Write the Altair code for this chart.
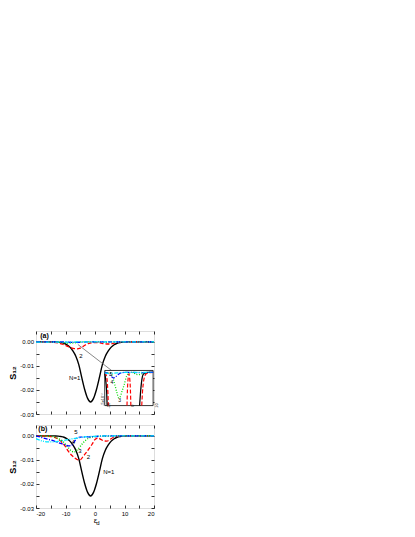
import altair as alt
import pandas as pd

# ---------------- data ----------------
# N=1 curve (identical in both panels)
black_x = [-20, -14.5, -13.5, -12.5, -11.5, -10.5, -9.5, -8.5, -7.5, -6.5, -5.5, -4.5, -3.5, -2.5,
           -1.5, -0.5, 0.5, 1.5, 2.5, 3.5, 4.5, 5.5, 6.5, 7.5, 8.5, 9.5, 10.5, 11.5, 20]
black_y = [0, 0, -0.00005, -0.00013, -0.0003, -0.0006, -0.0012, -0.0022, -0.0038, -0.0060, -0.0095,
           -0.0148, -0.0198, -0.0235, -0.0250, -0.0235, -0.0198, -0.0148, -0.0095, -0.0060, -0.0038,
           -0.0022, -0.0012, -0.0006, -0.0003, -0.00013, -0.00005, 0, 0]

# panel (a)
red_a_x = [-20, -14, -12, -11, -10, -9, -8, -7, -6, -5, -4, -3, -2, -1, 0, 1, 2, 3, 4, 5, 6, 7, 8, 9, 20]
red_a_y = [0, -0.0002, -0.0006, -0.0010, -0.0015, -0.0020, -0.0025, -0.0028, -0.0029, -0.0026, -0.0019,
           -0.0011, -0.0006, -0.0004, -0.0003, -0.0003, -0.0005, -0.0008, -0.0009, -0.0009, -0.0007,
           -0.0004, -0.0002, 0, 0]
green_a_x = [-20, -13, -12, -11, -10, -9, -8, -7, -6, -5, -4, 1, 2, 3, 4, 5, 6, 20]
green_a_y = [0, 0, -0.0002, -0.0003, -0.0004, -0.0005, -0.0005, -0.0004, -0.0003, -0.0001, 0, 0,
             -0.0001, -0.0002, -0.0002, -0.0001, 0, 0]
blue_a_x = [-20, -12, -10, -8, -6, -4, -2, 20]
blue_a_y = [0, 0, -0.0001, -0.0002, -0.0002, -0.0001, 0, 0]
cyan_a_x = [-20, -15, -10, -5, 0, 20]
cyan_a_y = [-0.0001, -0.0001, -0.0001, 0, 0, 0]

# panel (b)
red_b_x = [-20, -16, -14, -13, -12, -11, -10, -9, -8, -7, -6, -5, -4, -3, -2, -1, 0, 1, 2, 3, 4, 5, 6, 7, 8, 20]
red_b_y = [0, -0.0002, -0.0005, -0.0010, -0.0018, -0.0030, -0.0045, -0.0065, -0.0080, -0.0090, -0.0099,
           -0.0100, -0.0085, -0.0070, -0.0053, -0.0035, -0.0015, -0.0009, -0.0015, -0.0021, -0.0022,
           -0.0016, -0.0008, -0.0003, -0.0001, 0]
green_b_x = [-20, -15, -14, -13, -12, -11, -10, -9, -8, -7, -6, -5, -4, -3, -2, -1, 0, 2, 4, 6, 7, 20]
green_b_y = [0, -0.0002, -0.0004, -0.0008, -0.0014, -0.0022, -0.0035, -0.0050, -0.0063, -0.0067, -0.0058,
             -0.0044, -0.0029, -0.0017, -0.0009, -0.0005, -0.0003, -0.0002, -0.0002, -0.0001, 0, 0]
blue_b_x = [-20, -19, -18, -16, -14, -12, -11, -10, -9, -8, -7, -6, -5, -4, -2, 0, 2, 3, 20]
blue_b_y = [0, -0.0003, -0.0007, -0.0014, -0.0021, -0.0030, -0.0034, -0.0038, -0.0042, -0.0040, -0.0024,
            -0.0009, -0.0005, -0.0005, -0.0004, -0.0003, -0.0001, 0, 0]
cyan_b_x = [-20, -18, -16, -14, -12, -10, -8, -6, -4, -2, 0, 2, 4, 20]
cyan_b_y = [-0.0012, -0.0021, -0.0025, -0.0025, -0.0022, -0.0018, -0.0013, -0.0009, -0.0005, -0.0003,
            -0.0002, -0.0001, 0, 0]

# inset of panel (a): x in its own units, y in units of 1e-7
in_black_x = [[-10, -9.8, -9.5, -9.2, -9.0], [4.4, 4.8, 5.2, 5.6, 6.0, 7.0, 8.0, 10.0]]
in_black_y = [[-0.1, -0.5, -1.5, -3.0, -5.0], [-5.0, -3.0, -1.5, -0.6, -0.25, -0.05, 0, 0]]
in_red_x = [[-10, -9.5, -9.0, -8.7, -8.5], [-0.8, -0.6, -0.3, 0, 0.3, 0.6, 0.8],
            [5.3, 5.6, 6.0, 6.5, 7.0, 8.0, 10.0]]
in_red_y = [[-0.05, -0.3, -1.2, -3.0, -5.0], [-5.0, -2.5, -0.8, -0.2, -0.8, -2.5, -5.0],
            [-5.0, -3.0, -1.5, -0.6, -0.25, -0.05, 0]]
in_green_x = [[-10, -8, -7, -6, -5, -4.2, -3.5, -3, -2, -1, 0, 1, 2, 3, 4, 5, 6, 7, 10]]
in_green_y = [[0, -0.05, -0.4, -1.6, -3.0, -3.85, -3.6, -3.0, -1.9, -0.6, -0.1, 0, -0.1, -0.3, -0.35,
               -0.25, -0.1, 0, 0]]
in_blue_x = [[-10, -9, -8, -7, -6.4, -6, -5, -4, -3, -2, 2, 4, 6, 8, 10]]
in_blue_y = [[0, -0.1, -0.35, -0.7, -0.85, -0.8, -0.5, -0.2, -0.05, 0, 0, -0.05, -0.05, 0, 0]]
in_cyan_x = [[-10, -8, -6, -4, -2, 10]]
in_cyan_y = [[-0.1, -0.15, -0.1, -0.05, 0, 0]]

in_x_ticks = [-10, 0, 10]
in_x_tick_labels = ["-10", "0", "10"]
in_y_label = "-5x10\u207b\u2077"

labels_a = {"t": ["(a)", "2", "N=1"], "x": [-17.1, -4.8, -6.9], "y": [0.0025, -0.0057, -0.0152],
            "w": ["bold", "normal", "normal"]}
labels_a_inset = {"t": ["5", "4", "3"], "x": [-7.5, -7.0, -3.8], "y": [-0.2, -1.4, -4.2]}
labels_b = {"t": ["(b)", "5", "4", "3", "2", "N=1"], "x": [-17.7, -6.5, -7.3, -5.1, -2.2, 4.7],
            "y": [0.0028, 0.0014, -0.0025, -0.0063, -0.0086, -0.0150],
            "w": ["bold", "normal", "normal", "normal", "normal", "normal"]}

# ---------------- layout constants ----------------
X_DOMAIN = [-20, 20]
Y_DOMAIN = [-0.03, 0.0045]
W, H = 118, 83
FONT = "Liberation Sans"
IX0, IX1 = 3.3, 19.7          # inset box in panel (a) data units
IY0, IY1 = -0.0265, -0.0119
INX0, INX1 = -10, 10          # inset own domain
INY0, INY1 = -5.0, 0.3

STYLE = {
    "1": ("#000000", None, 1.4),
    "2": ("#ff0000", [4, 2], 1.3),
    "3": ("#00dd00", [1, 1.6], 1.4),
    "4": ("#0000ff", [4, 1.5, 1, 1.5], 1.3),
    "5": ("#00e5ff", [4, 1.2, 1, 1.2, 1, 1.2], 1.3),
}

xs = alt.Scale(domain=X_DOMAIN, nice=False, zero=False)
ys = alt.Scale(domain=Y_DOMAIN, nice=False, zero=False)

YEXPR = ("datum.value == 0 ? '0.00' : (abs(datum.value*100 - round(datum.value*100)) < 0.001 ? "
         "'-0.0' + round(-datum.value*100) : '')")
XEXPR = "datum.value % 10 == 0 ? '' + datum.value : ''"


def x_axis(show_labels, title):
    return alt.Axis(values=list(range(-20, 21, 5)), labelExpr=XEXPR, labels=show_labels,
                    offset=-3, tickSize=3, tickWidth=0.8, tickColor="black", domain=False, grid=False,
                    labelPadding=2, labelFontSize=6, labelFont=FONT, labelColor="black",
                    title=title, titleFont=FONT, titleFontSize=8, titleFontWeight="normal",
                    titleColor="black", titlePadding=0)


def y_axis():
    return alt.Axis(values=[0, -0.005, -0.01, -0.015, -0.02, -0.025, -0.03], labelExpr=YEXPR,
                    offset=-3, tickSize=3, tickWidth=0.8, tickColor="black", domain=False, grid=False,
                    labelPadding=2.5, labelFontSize=6, labelFont=FONT, labelColor="black",
                    title="S\u2081\u2082", titleFont=FONT, titleFontSize=9, titleFontWeight="bold",
                    titleColor="black", titlePadding=2)


def line(xv, yv, key, ax=None, ay=None):
    color, dash, w = STYLE[key]
    kw = dict(color=color, strokeWidth=w, interpolate="monotone", clip=True)
    if dash:
        kw["strokeDash"] = dash
    return alt.Chart(pd.DataFrame({"x": xv, "y": yv})).mark_line(**kw).encode(
        x=alt.X("x:Q", scale=xs, axis=ax), y=alt.Y("y:Q", scale=ys, axis=ay))


def tick_layer():
    ax = alt.Axis(orient="top", values=list(range(-20, 21, 5)), labels=False, offset=-3, tickSize=3,
                  tickWidth=0.8, tickColor="black", domain=False, grid=False, title=None)
    ay = alt.Axis(orient="right", values=[0, -0.005, -0.01, -0.015, -0.02, -0.025, -0.03], labels=False,
                  offset=-3, tickSize=3, tickWidth=0.8, tickColor="black", domain=False, grid=False,
                  title=None)
    return alt.Chart(pd.DataFrame({"x": [0], "y": [0]})).mark_point(opacity=0).encode(
        x=alt.X("x:Q", scale=xs, axis=ax), y=alt.Y("y:Q", scale=ys, axis=ay))


def texts(d, size=6):
    df = pd.DataFrame({"x": d["x"], "y": d["y"], "t": d["t"], "w": d.get("w", ["normal"] * len(d["t"]))})
    out = []
    for wt in ["normal", "bold"]:
        sub = df[df["w"] == wt]
        if len(sub):
            out.append(alt.Chart(sub).mark_text(font=FONT, fontSize=size + (1 if wt == "bold" else 0),
                                                fontWeight=wt, color="black").encode(
                x=alt.X("x:Q", scale=xs, axis=None), y=alt.Y("y:Q", scale=ys, axis=None), text="t:N"))
    return out


MX = f"{IX0} + (datum.x - ({INX0})) / {INX1 - INX0} * {IX1 - IX0}"
MY = f"{IY1} + (datum.y - ({INY1})) / {INY1 - INY0} * {IY1 - IY0}"


def inset_line(xsegs, ysegs, key):
    rows = []
    for i, (xx, yy) in enumerate(zip(xsegs, ysegs)):
        for a, b in zip(xx, yy):
            rows.append({"x": a, "y": b, "seg": i})
    color, dash, w = STYLE[key]
    kw = dict(color=color, strokeWidth=w * 0.9, interpolate="monotone")
    if dash:
        kw["strokeDash"] = dash
    return alt.Chart(pd.DataFrame(rows)).transform_calculate(mx=MX, my=MY).mark_line(**kw).encode(
        x=alt.X("mx:Q", scale=xs, axis=None), y=alt.Y("my:Q", scale=ys, axis=None), detail="seg:N")


def inset_texts():
    d = pd.DataFrame(labels_a_inset)
    lab = alt.Chart(d).transform_calculate(mx=MX, my=MY).mark_text(
        font=FONT, fontSize=5, color="black").encode(
        x=alt.X("mx:Q", scale=xs, axis=None), y=alt.Y("my:Q", scale=ys, axis=None), text="t:N")
    tk = pd.DataFrame({"x": in_x_ticks, "y": [INY0] * 3, "t": in_x_tick_labels})
    tkl = alt.Chart(tk).transform_calculate(mx=MX, my=MY).mark_text(
        font=FONT, fontSize=4, color="black", angle=270, dy=4, align="center").encode(
        x=alt.X("mx:Q", scale=xs, axis=None), y=alt.Y("my:Q", scale=ys, axis=None), text="t:N")
    yl = pd.DataFrame({"x": [INX0], "y": [INY0 + 0.9], "t": [in_y_label]})
    yll = alt.Chart(yl).transform_calculate(mx=MX, my=MY).mark_text(
        font=FONT, fontSize=4, color="black", angle=270, dx=0, dy=-2).encode(
        x=alt.X("mx:Q", scale=xs, axis=None), y=alt.Y("my:Q", scale=ys, axis=None), text="t:N")
    return [lab, tkl, yll]


box = alt.Chart(pd.DataFrame({"x": [IX0], "x2": [IX1], "y": [IY0], "y2": [IY1]})).mark_rect(
    fill="white", stroke="black", strokeWidth=0.8).encode(
    x=alt.X("x:Q", scale=xs, axis=None), x2="x2:Q", y=alt.Y("y:Q", scale=ys, axis=None), y2="y2:Q")

connector = alt.Chart(pd.DataFrame({"x": [-5.8], "x2": [5.6], "y": [-0.0011], "y2": [IY1]})).mark_rule(
    color="#555555", strokeWidth=0.7).encode(
    x=alt.X("x:Q", scale=xs, axis=None), x2="x2:Q", y=alt.Y("y:Q", scale=ys, axis=None), y2="y2:Q")

panel_a = alt.layer(
    line(black_x, black_y, "1", x_axis(False, None), y_axis()),
    line(red_a_x, red_a_y, "2"),
    line(green_a_x, green_a_y, "3"),
    line(blue_a_x, blue_a_y, "4"),
    line(cyan_a_x, cyan_a_y, "5"),
    tick_layer(),
    connector,
    box,
    inset_line(in_black_x, in_black_y, "1"),
    inset_line(in_red_x, in_red_y, "2"),
    inset_line(in_green_x, in_green_y, "3"),
    inset_line(in_blue_x, in_blue_y, "4"),
    inset_line(in_cyan_x, in_cyan_y, "5"),
    *inset_texts(),
    *texts(labels_a),
).resolve_axis(x="independent", y="independent").properties(width=W, height=H)

sub_d = alt.Chart(pd.DataFrame({"x": [1.0], "y": [-0.0363], "t": ["d"]})).mark_text(
    font=FONT, fontSize=6, color="black").encode(
    x=alt.X("x:Q", scale=xs, axis=None), y=alt.Y("y:Q", scale=ys, axis=None), text="t:N")

panel_b = alt.layer(
    line(black_x, black_y, "1", x_axis(True, "\u03b5"), y_axis()),
    line(red_b_x, red_b_y, "2"),
    line(green_b_x, green_b_y, "3"),
    line(blue_b_x, blue_b_y, "4"),
    line(cyan_b_x, cyan_b_y, "5"),
    tick_layer(),
    sub_d,
    *texts(labels_b),
).resolve_axis(x="independent", y="independent").properties(width=W, height=H)

chart = alt.vconcat(panel_a, panel_b, spacing=6).properties(
    padding={"left": 0, "top": 322, "right": 5, "bottom": 5}
).configure_view(stroke="black", strokeWidth=1).configure(background="white")

chart.save("out.html", embed_options={"renderer": "svg", "actions": False})
